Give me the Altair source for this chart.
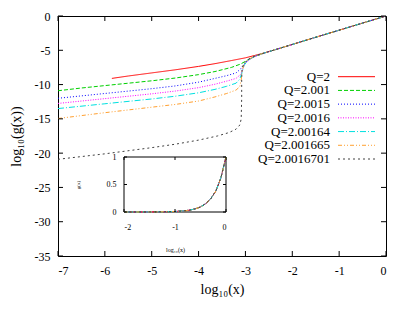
import altair as alt
import pandas as pd

FONT = "Liberation Serif"

series = ["Q=2", "Q=2.001", "Q=2.0015", "Q=2.0016", "Q=2.00164", "Q=2.001665", "Q=2.0016701"]
colors = ["#ff0000", "#00d000", "#0000ff", "#ff00ff", "#00e0e0", "#ffa030", "#404040"]
dashes = [[1, 0], [4, 2], [1, 2], [1, 1.5], [6, 2, 1, 2], [4, 2, 1, 2, 1, 2], [2, 3]]

# shared asymptotic tail
tail_x = [-2.3, -2.0, -1.5, -1.0, -0.5, 0.0]
tail_y = [-4.78, -4.15, -3.1, -2.07, -1.03, 0.0]

x_q2 = [-5.85, -5.5, -5.0, -4.5, -4.0, -3.65, -3.3, -3.0, -2.8, -2.58]
y_q2 = [-9.1, -8.75, -8.3, -7.85, -7.35, -6.95, -6.5, -6.1, -5.75, -5.35]

x_q2001 = [-7, -6.5, -6, -5.5, -5, -4.5, -4, -3.65, -3.3, -3.1, -2.95, -2.8, -2.6]
y_q2001 = [-10.9, -10.5, -10.15, -9.8, -9.45, -9.05, -8.55, -8.1, -7.5, -7.0, -6.4, -5.9, -5.4]

x_q20015 = [-7, -6, -5, -4.5, -4, -3.65, -3.4, -3.2, -3.1, -3.03, -2.95, -2.8, -2.6]
y_q20015 = [-12.0, -11.3, -10.6, -10.2, -9.65, -9.1, -8.7, -8.3, -7.7, -7.0, -6.45, -5.9, -5.4]

x_q20016 = [-7, -6, -5, -4.5, -4, -3.65, -3.4, -3.2, -3.1, -3.05, -3.0, -2.9, -2.75, -2.6]
y_q20016 = [-12.75, -12.05, -11.35, -10.95, -10.45, -9.95, -9.5, -9.1, -8.5, -7.6, -6.9, -6.3, -5.75, -5.4]

x_q200164 = [-7, -6, -5, -4.5, -4, -3.65, -3.4, -3.2, -3.12, -3.07, -3.03, -2.95, -2.8, -2.6]
y_q200164 = [-13.5, -12.8, -12.1, -11.7, -11.2, -10.7, -10.25, -9.8, -9.2, -8.2, -7.2, -6.5, -5.85, -5.4]

x_q2001665 = [-7, -6, -5, -4.5, -4, -3.65, -3.4, -3.2, -3.12, -3.09, -3.07, -3.03, -2.95, -2.8, -2.6]
y_q2001665 = [-14.95, -14.1, -13.3, -12.9, -12.4, -11.8, -11.3, -10.8, -10.3, -9.3, -8.0, -7.0, -6.4, -5.85, -5.4]

x_q20016701 = [-7, -6, -5, -4.5, -4, -3.6, -3.35, -3.2, -3.12, -3.09, -3.08, -3.08, -3.07, -3.03, -2.95, -2.8, -2.6]
y_q20016701 = [-20.9, -20.1, -19.2, -18.7, -18.1, -17.5, -17.0, -16.5, -15.9, -15.0, -12.0, -9.0, -7.6, -6.9, -6.35, -5.85, -5.4]

curves_x = [x_q2, x_q2001, x_q20015, x_q20016, x_q200164, x_q2001665, x_q20016701]
curves_y = [y_q2, y_q2001, y_q20015, y_q20016, y_q200164, y_q2001665, y_q20016701]

# inset: g(x) vs log10(x)
inset_x = [-2, -1.5, -1.2, -1.0, -0.8, -0.7, -0.6, -0.5, -0.4, -0.3, -0.2, -0.1, 0.0]
inset_g = [0, 0.001, 0.004, 0.009, 0.023, 0.036, 0.058, 0.092, 0.15, 0.24, 0.38, 0.62, 1.0]

x_ticks = [-7, -6, -5, -4, -3, -2, -1, 0]
y_ticks = [0, -5, -10, -15, -20, -25, -30, -35]
inset_x_ticks = [-2, -1, 0]
inset_y_ticks = [0, 0.5, 1]

W, H = 328, 240

rows = []
for s, xs_, ys_ in zip(series, curves_x, curves_y):
    xx = list(xs_) + tail_x
    yy = list(ys_) + tail_y
    for i, (a, b) in enumerate(zip(xx, yy)):
        rows.append({"series": s, "x": a, "y": b, "i": i})
df = pd.DataFrame(rows)

irows = []
for s in series:
    for i, (a, b) in enumerate(zip(inset_x, inset_g)):
        irows.append({"series": s, "ix": a, "ig": b, "i": i})
idf = pd.DataFrame(irows)

LBL = "'' + datum.value"

xsc = alt.Scale(domain=[x_ticks[0], x_ticks[-1]], nice=False, zero=False)
ysc = alt.Scale(domain=[y_ticks[-1], y_ticks[0]], nice=False, zero=False)
xaxis = alt.Axis(values=x_ticks, title="log\u2081\u2080(x)", grid=False, ticks=False, domain=False,
                 labelPadding=9, titlePadding=6, labelFontSize=12, titleFontSize=14, labelExpr=LBL)
yaxis = alt.Axis(values=y_ticks, title="log\u2081\u2080(g(x))", grid=False, ticks=False, domain=False,
                 labelPadding=8, titlePadding=11, labelFontSize=12, titleFontSize=14, labelExpr=LBL)
X = alt.X("x:Q", scale=xsc, axis=xaxis)
Y = alt.Y("y:Q", scale=ysc, axis=yaxis)

col = alt.Color("series:N", scale=alt.Scale(domain=series, range=colors), legend=None)
dash = alt.StrokeDash("series:N", scale=alt.Scale(domain=series, range=dashes), legend=None)

lines = alt.Chart(df).mark_line(strokeWidth=1, clip=True).encode(
    x=X, y=Y, color=col, strokeDash=dash, order="i:Q")

xt_df = pd.DataFrame({"x": x_ticks})
yt_df = pd.DataFrame({"y": y_ticks})
tb = alt.Chart(xt_df).mark_rule(color="black").encode(x=X, y=alt.value(H), y2=alt.value(H - 5))
tt = alt.Chart(xt_df).mark_rule(color="black").encode(x=X, y=alt.value(0), y2=alt.value(5))
tl = alt.Chart(yt_df).mark_rule(color="black").encode(y=Y, x=alt.value(0), x2=alt.value(5))
tr = alt.Chart(yt_df).mark_rule(color="black").encode(y=Y, x=alt.value(W), x2=alt.value(W - 5))
main = alt.layer(lines, tb, tt, tl, tr)

# inset
IX0, IX1 = 66, 168
IY0, IY1 = 196, 141
ixsc = alt.Scale(domain=[inset_x_ticks[0], inset_x_ticks[-1]], range=[IX0, IX1], nice=False, zero=False)
iysc = alt.Scale(domain=[inset_y_ticks[0], inset_y_ticks[-1]], range=[IY0, IY1], nice=False, zero=False)
ixaxis = alt.Axis(orient="bottom", offset=-(H - IY0), values=inset_x_ticks, title="log\u2081\u2080(x)",
                  grid=False, ticks=False, domain=False, labelFontSize=8, titleFontSize=6,
                  labelPadding=11, titlePadding=15, labelExpr=LBL, labelOverlap=False)
iyaxis = alt.Axis(orient="left", offset=-IX0, values=inset_y_ticks, title="g(x)",
                  grid=False, ticks=False, domain=False, labelFontSize=8, titleFontSize=5,
                  labelPadding=8, labelExpr=LBL, labelOverlap=False, labelBound=False,
                  titleX=-47, titleY=(IY0 + IY1) / 2, titleAngle=270, titleBaseline="middle",
                  titleAlign="center")
IXe = alt.X("ix:Q", scale=ixsc, axis=ixaxis)
IYe = alt.Y("ig:Q", scale=iysc, axis=iyaxis)

frame_df = pd.DataFrame({"ix": [inset_x_ticks[0]], "ix2": [inset_x_ticks[-1]],
                         "ig": [inset_y_ticks[0]], "ig2": [inset_y_ticks[-1]]})
frame = alt.Chart(frame_df).mark_rect(fill="white", stroke="black", strokeWidth=1).encode(
    x=IXe, x2="ix2:Q", y=IYe, y2="ig2:Q")
ilines = alt.Chart(idf).mark_line(strokeWidth=1).encode(
    x=IXe, y=IYe, color=col, strokeDash=dash, order="i:Q")
ixt_df = pd.DataFrame({"ix": inset_x_ticks})
iyt_df = pd.DataFrame({"ig": inset_y_ticks})
itb = alt.Chart(ixt_df).mark_rule(color="black").encode(x=IXe, y=alt.value(IY0), y2=alt.value(IY0 - 3))
itt = alt.Chart(ixt_df).mark_rule(color="black").encode(x=IXe, y=alt.value(IY1), y2=alt.value(IY1 + 3))
itl = alt.Chart(iyt_df).mark_rule(color="black").encode(y=IYe, x=alt.value(IX0), x2=alt.value(IX0 + 3))
itr = alt.Chart(iyt_df).mark_rule(color="black").encode(y=IYe, x=alt.value(IX1), x2=alt.value(IX1 - 3))
inset = alt.layer(frame, ilines, itb, itt, itl, itr)

# legend (inside plot, labels right-aligned, sample lines to the right)
leg_df = pd.DataFrame({"series": series})
LY = alt.Y("series:N", scale=alt.Scale(type="point", domain=series, range=[60.7, 143], padding=0), axis=None)
ltext = alt.Chart(leg_df).mark_text(align="right", baseline="middle", font=FONT, fontSize=13,
                                    color="black").encode(x=alt.value(272), y=LY, text="series:N")
lrule = alt.Chart(leg_df).mark_rule(strokeWidth=1).encode(
    x=alt.value(280), x2=alt.value(317), y=LY, color=col, strokeDash=dash)
legend = alt.layer(ltext, lrule)

chart = alt.layer(main, inset, legend).resolve_scale(
    x="independent", y="independent", color="independent", strokeDash="independent"
).properties(
    width=W, height=H,
    autosize=alt.AutoSizeParams(type="none"),
    padding={"left": 50, "top": 8, "right": 16, "bottom": 52},
).configure_view(stroke="black", strokeWidth=1).configure_axis(
    labelFont=FONT, titleFont=FONT, labelColor="black", titleColor="black", titleFontWeight="normal"
)

chart.save("out.html", embed_options={"renderer": "svg", "actions": False})
